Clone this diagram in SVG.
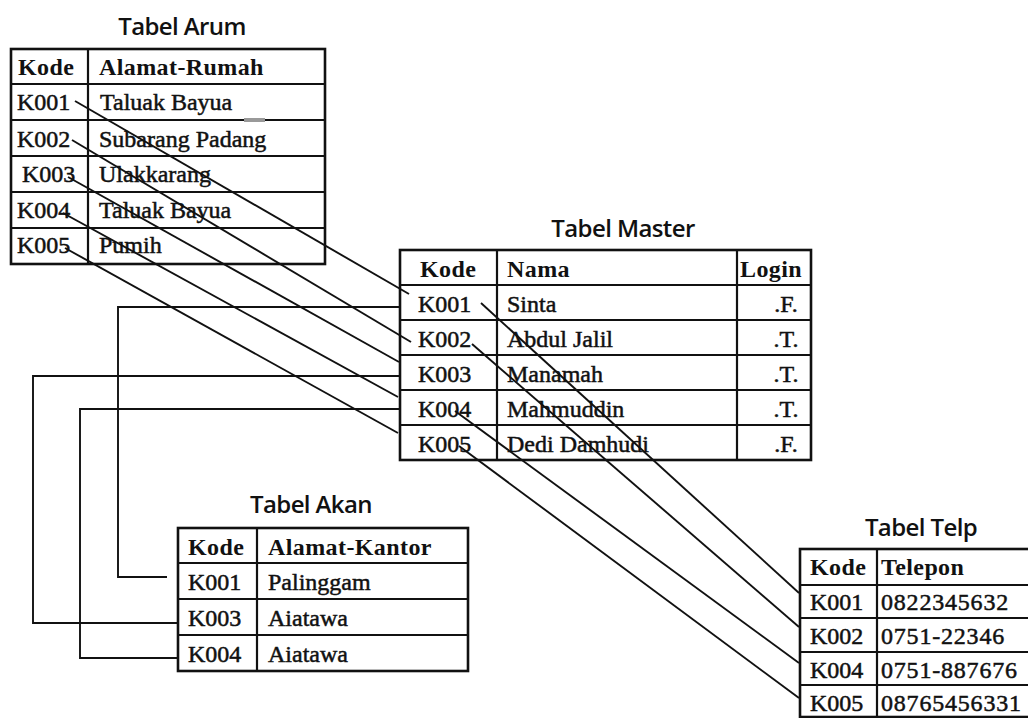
<svg xmlns="http://www.w3.org/2000/svg" width="1028" height="718" viewBox="0 0 1028 718">
<style>
.bg{fill:#fff}
.tb{fill:#fff;stroke:#111;stroke-width:2.6}
.ln{stroke:#111;stroke-width:2.2;fill:none}
.title{font-family:"Open Sans","Liberation Sans",sans-serif;font-size:24px;font-weight:600;fill:#111;text-anchor:middle;letter-spacing:-0.6px}
.h{font-family:"Liberation Serif","Times New Roman",serif;font-size:24px;font-weight:bold;fill:#111;letter-spacing:0.4px}
.c{font-family:"Liberation Serif","Times New Roman",serif;font-size:24px;fill:#111;stroke:#111;stroke-width:0.5}
.ph{letter-spacing:0.8px}
.mid{text-anchor:middle}
.cn{stroke:#111;stroke-width:1.9;fill:none}
</style>
<rect class="bg" x="0" y="0" width="1028" height="718"/>

<g id="tabel-arum">
<text class="title" x="182" y="35">Tabel Arum</text>
<rect class="tb" x="11" y="49" width="314" height="215"/>
<path class="ln" d="M88,49V264M11,84H325M11,120H325M11,156H325M11,192H325M11,228H325"/>
<rect x="244" y="118" width="21" height="4" fill="#999"/>
<text class="h" x="18" y="75">Kode</text>
<text class="h" x="99" y="75">Alamat-Rumah</text>
<text class="c" x="17" y="110">K001</text>
<text class="c" x="100" y="110">Taluak Bayua</text>
<text class="c" x="17" y="147">K002</text>
<text class="c" x="99" y="147">Subarang Padang</text>
<text class="c" x="22" y="182">K003</text>
<text class="c" x="99" y="182">Ulakkarang</text>
<text class="c" x="17" y="218">K004</text>
<text class="c" x="99" y="218">Taluak Bayua</text>
<text class="c" x="17" y="253">K005</text>
<text class="c" x="99" y="253">Pumih</text>
</g>

<g id="tabel-master">
<text class="title" x="623" y="237">Tabel Master</text>
<rect class="tb" x="400" y="250" width="411" height="210"/>
<path class="ln" d="M497,250V460M737,250V460M400,285H811M400,320H811M400,355H811M400,390H811M400,425H811"/>
<text class="h" x="420" y="277">Kode</text>
<text class="h" x="507" y="277">Nama</text>
<text class="h" x="740" y="277">Login</text>
<text class="c" x="418" y="312">K001</text>
<text class="c" x="507" y="312">Sinta</text>
<text class="c mid" x="786" y="312">.F.</text>
<text class="c" x="418" y="347">K002</text>
<text class="c" x="507" y="347">Abdul Jalil</text>
<text class="c mid" x="786" y="347">.T.</text>
<text class="c" x="418" y="382">K003</text>
<text class="c" x="507" y="382">Manamah</text>
<text class="c mid" x="786" y="382">.T.</text>
<text class="c" x="418" y="417">K004</text>
<text class="c" x="507" y="417">Mahmuddin</text>
<text class="c mid" x="786" y="417">.T.</text>
<text class="c" x="418" y="452">K005</text>
<text class="c" x="507" y="452">Dedi Damhudi</text>
<text class="c mid" x="786" y="452">.F.</text>
</g>

<g id="tabel-akan">
<text class="title" x="311" y="513">Tabel Akan</text>
<rect class="tb" x="178" y="528" width="290" height="143"/>
<path class="ln" d="M257,528V671M178,563H468M178,599H468M178,635H468"/>
<text class="h" x="188" y="555">Kode</text>
<text class="h" x="268" y="555">Alamat-Kantor</text>
<text class="c" x="188" y="590">K001</text>
<text class="c" x="268" y="590">Palinggam</text>
<text class="c" x="188" y="626">K003</text>
<text class="c" x="268" y="626">Aiatawa</text>
<text class="c" x="188" y="662">K004</text>
<text class="c" x="268" y="662">Aiatawa</text>
</g>

<g id="tabel-telp">
<text class="title" x="921" y="536">Tabel Telp</text>
<rect class="tb" x="800" y="549" width="240" height="168"/>
<path class="ln" d="M877,549V717M800,585H1040M800,618H1040M800,652H1040M800,685H1040"/>
<text class="h" x="810" y="575">Kode</text>
<text class="h" x="881" y="575">Telepon</text>
<text class="c" x="810" y="610">K001</text>
<text class="c ph" x="881" y="610">0822345632</text>
<text class="c" x="810" y="644">K002</text>
<text class="c ph" x="881" y="644">0751-22346</text>
<text class="c" x="810" y="678">K004</text>
<text class="c ph" x="881" y="678">0751-887676</text>
<text class="c" x="810" y="711">K005</text>
<text class="c ph" x="881" y="711">08765456331</text>
</g>

<g id="connectors">
<path class="cn" d="M75,101L409,294"/>
<path class="cn" d="M72,140L411,342"/>
<path class="cn" d="M68,177L399,362"/>
<path class="cn" d="M63,213L398,397"/>
<path class="cn" d="M65,248L398,433"/>
<path class="cn" d="M481,303L799,593"/>
<path class="cn" d="M472,344L799,627"/>
<path class="cn" d="M455,411L799,663"/>
<path class="cn" d="M459,446L799,698"/>
<path class="cn" d="M400,307H118V577H167"/>
<path class="cn" d="M400,376H33V623H178"/>
<path class="cn" d="M400,409H80V658H178"/>
</g>
</svg>
